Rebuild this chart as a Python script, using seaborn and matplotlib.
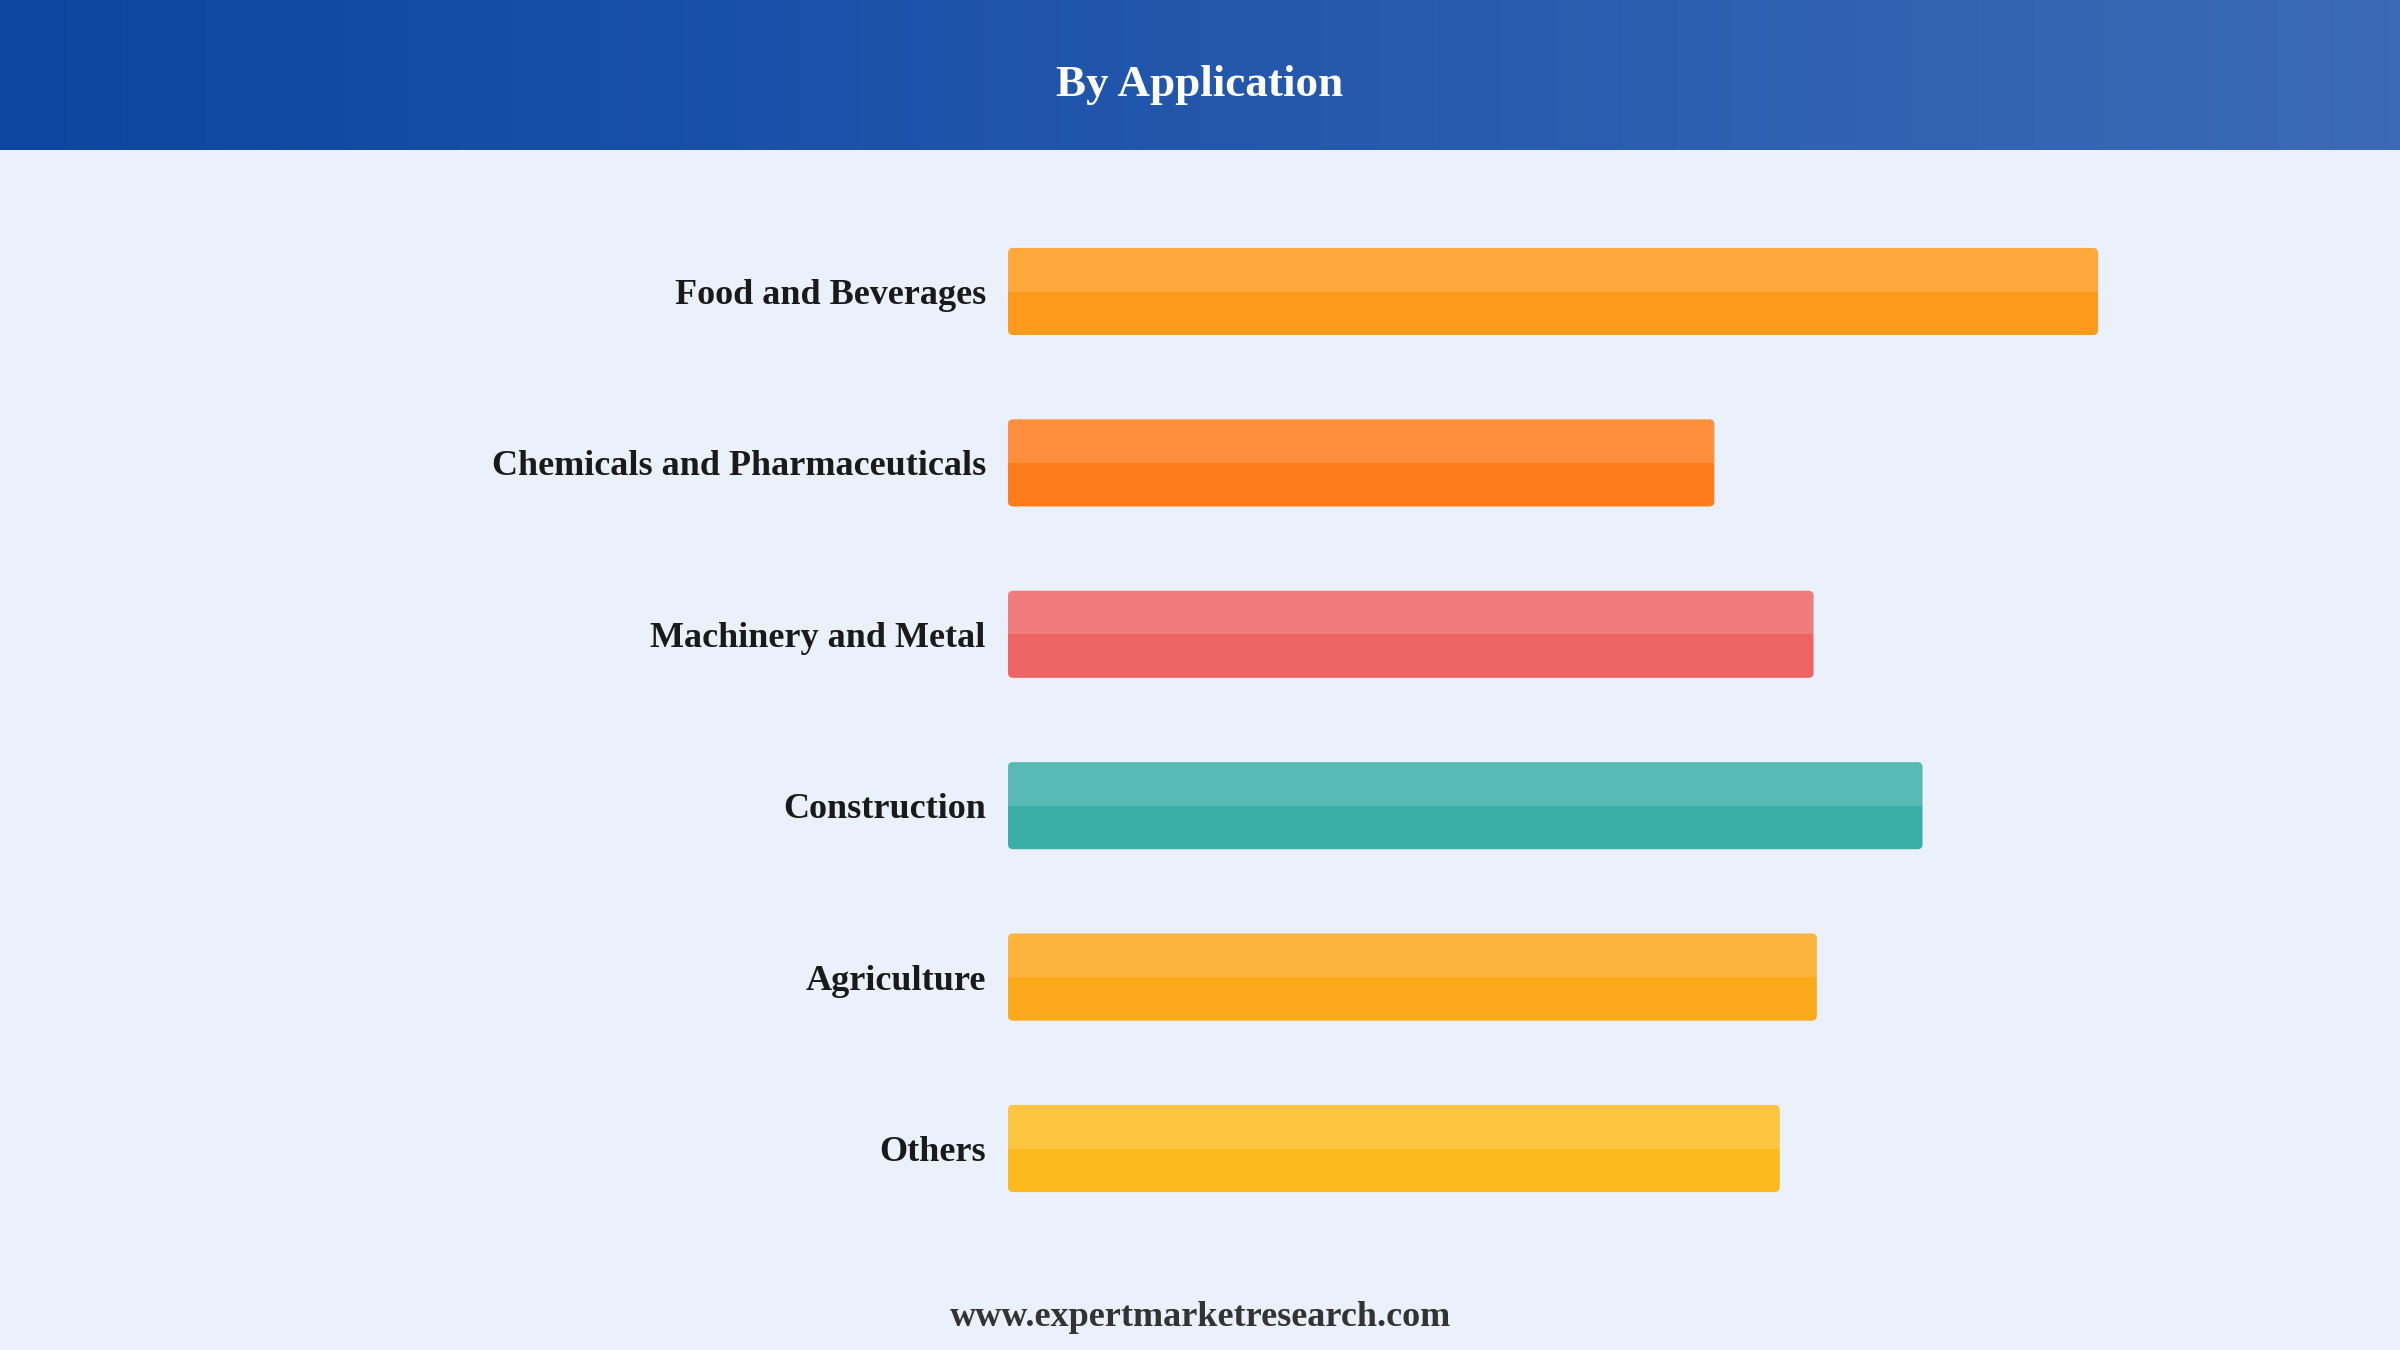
import numpy as np
import pandas as pd
import seaborn as sns
import matplotlib
matplotlib.use("Agg")
import matplotlib.pyplot as plt
from matplotlib.patches import FancyBboxPatch, Rectangle
from matplotlib.colors import LinearSegmentedColormap

categories = ["Food and Beverages", "Chemicals and Pharmaceuticals", "Machinery and Metal",
              "Construction", "Agriculture", "Others"]
values = [100, 64.8, 73.9, 83.9, 74.2, 70.8]
colors = ["#FF9B1C", "#FF7C1C", "#EE6464", "#3AAFA7", "#FBA81A", "#FDBA1E"]
title = "By Application"
footer = "www.expertmarketresearch.com"

sns.set_theme(style="white")
plt.rcParams['font.family'] = ['Liberation Serif', 'DejaVu Serif']

W, H = 2400, 1350
fig = plt.figure(figsize=(24, 13.5), dpi=100)
fig.patch.set_facecolor('#EAF1FB')

# header band with gradient
hax = fig.add_axes([0, 1 - 150 / H, 1, 150 / H])
grad = np.linspace(0, 1, 512).reshape(1, -1)
cmap = LinearSegmentedColormap.from_list('hdr', ['#0D46A0', '#2257AC', '#3B6BB5'])
hax.imshow(grad, aspect='auto', cmap=cmap, extent=[0, 1, 0, 1])
hax.set_xlim(0, 1); hax.set_ylim(0, 1)
hax.axis('off')
hax.text(0.5, 1 - 96 / 150, title, ha='center', va='baseline', color='white',
         fontsize=32.5, fontweight='bold')

# bars
ax = fig.add_axes([1008 / W, 1 - 1234.2 / H, 1090 / W, 1028.4 / H])
ax.set_facecolor('none')
df = pd.DataFrame({"category": categories, "value": values})
sns.barplot(data=df, x="value", y="category", hue="category", palette=colors,
            orient='h', width=0.508, legend=False, ax=ax, saturation=1)
ax.set_xlim(0, 100)
ax.set_ylim(5.5, -0.5)

px_x = 1090 / 100.0
px_y = 1028.4 / 6.0
rad_px = 5
for p in list(ax.patches):
    x, y = p.get_x(), p.get_y()
    w, h = p.get_width(), p.get_height()
    fc = p.get_facecolor()
    p.remove()
    fb = FancyBboxPatch((x, y), w, h,
                        boxstyle=f"round,pad=0,rounding_size={rad_px / px_x}",
                        mutation_aspect=px_x / px_y,
                        facecolor=fc, edgecolor='none', zorder=2)
    ax.add_patch(fb)
    hl = Rectangle((x, y), w, h / 2, facecolor='white', alpha=0.15,
                   edgecolor='none', zorder=3)
    ax.add_patch(hl)
    hl.set_clip_path(fb)

for s in ax.spines.values():
    s.set_visible(False)
ax.set_xticks([])
ax.set_xlabel("")
ax.set_ylabel("")
ax.tick_params(axis='y', length=0, pad=16)
for lab in ax.get_yticklabels():
    lab.set_fontsize(26)
    lab.set_fontweight('bold')
    lab.set_color('#1A1A1A')

fig.text(0.5, 1 - 1326 / H, footer, ha='center', va='baseline', color='#333333',
         fontsize=26, fontweight='bold')

fig.savefig("out.png", dpi=100, facecolor=fig.get_facecolor())
